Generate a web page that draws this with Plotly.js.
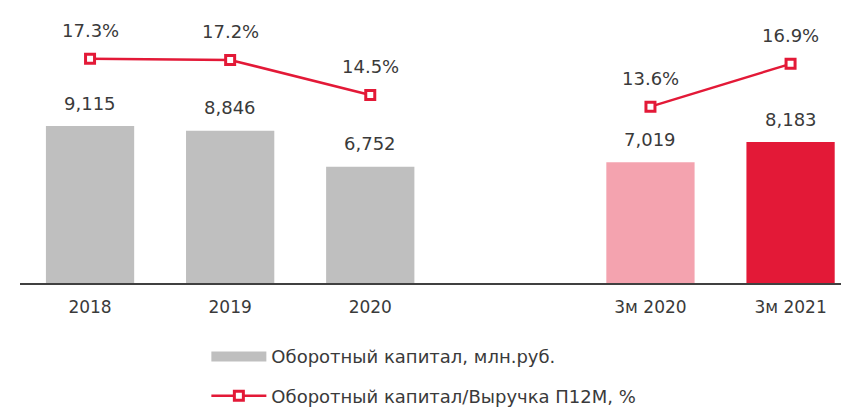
<!DOCTYPE html>
<html><head><meta charset="utf-8">
<script src="https://cdn.plot.ly/plotly-3.0.1.min.js"></script>
<style>html,body{margin:0;padding:0;background:#fff}#c{width:841px;height:408px}</style>
</head><body><div id="c"></div>
<script>
const categories = ['2018','2019','2020',' ','3м 2020','3м 2021'];
const capital = [9115, 8846, 6752, null, 7019, 8183];
const ratio = [17.3, 17.2, 14.5, null, 13.6, 16.9];
const barColors = ['#BFBFBF','#BFBFBF','#BFBFBF','#BFBFBF','#F4A3AF','#E31937'];
const seriesNames = ['Оборотный капитал, млн.руб.', 'Оборотный капитал/Выручка П12М, %'];

const FONT = '"DejaVu Sans", sans-serif';
const TXT = '#3a3a3a';
const RED = '#E31937';
const GREY = '#BFBFBF';

const traces = [
  {type:'bar', x:categories, y:capital, name:seriesNames[0], marker:{color:barColors},
   showlegend:false, hoverinfo:'skip'},
  // legend swatch for the bar series (wide grey band, as in the original)
  {type:'scatter', mode:'lines', x:[categories[0]], y:[null], name:seriesNames[0],
   line:{color:GREY, width:10}, legendgroup:'a', hoverinfo:'skip'},
  {type:'scatter', mode:'lines+markers', x:categories, y:ratio, yaxis:'y2', name:seriesNames[1],
   connectgaps:false, line:{color:RED, width:2.5},
   marker:{symbol:'square', size:9, color:'#fff', line:{color:RED, width:3}},
   legendgroup:'b', hoverinfo:'skip'}
];

const annotations = [];
categories.forEach((c,i)=>{
  if (capital[i] != null) annotations.push({x:i, y:capital[i], xref:'x', yref:'y', yshift:23,
    text:capital[i].toLocaleString('en-US'), showarrow:false, font:{family:FONT,size:18,color:TXT}});
  if (ratio[i] != null) annotations.push({x:i, y:ratio[i], xref:'x', yref:'y2', yshift:28,
    text:ratio[i].toFixed(1)+'%', showarrow:false, font:{family:FONT,size:18,color:TXT}});
});

const layout = {
  width:841, height:408,
  margin:{l:20, r:0, t:20, b:125, autoexpand:false},
  paper_bgcolor:'#fff', plot_bgcolor:'#fff',
  font:{family:FONT, size:17, color:TXT},
  bargap:0.37,
  showlegend:true,
  xaxis:{type:'category', range:[-0.5,5.36], showline:true, linecolor:'#404040', linewidth:1.5,
    ticks:'', ticklabelstandoff:8, showgrid:false, zeroline:false,
    tickfont:{family:FONT,size:17,color:TXT}, fixedrange:true},
  yaxis:{range:[0,15273], visible:false, showgrid:false, zeroline:false},
  yaxis2:{range:[0,20.28], overlaying:'y', visible:false, showgrid:false, zeroline:false},
  legend:{orientation:'v', x:0.227, xanchor:'left', y:-0.21, yanchor:'top', traceorder:'grouped',
    tracegroupgap:13, itemwidth:55, font:{family:FONT,size:18,color:TXT}, bgcolor:'rgba(0,0,0,0)'},
  annotations:annotations
};
Plotly.newPlot('c', traces, layout, {displayModeBar:false, staticPlot:true});
</script></body></html>
